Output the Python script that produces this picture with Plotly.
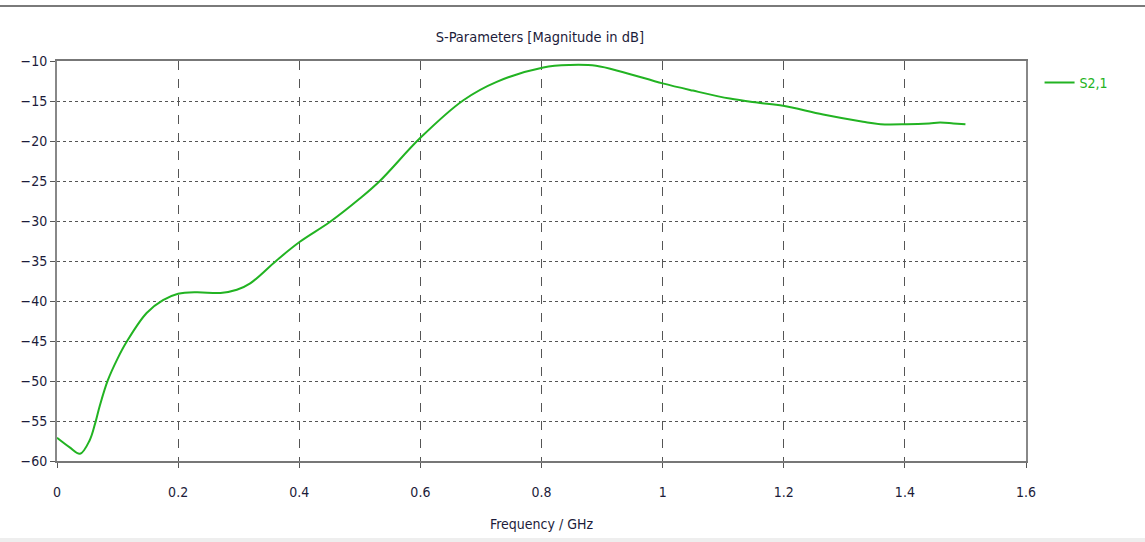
import plotly.graph_objects as go

# S2,1 magnitude versus frequency
freq_ghz = [0.0, 0.021, 0.038, 0.054, 0.063, 0.071, 0.084, 0.1, 0.115, 0.148, 0.175, 0.2, 0.23,
            0.27, 0.297, 0.319, 0.363, 0.401, 0.451, 0.5, 0.533, 0.6, 0.671, 0.726, 0.803,
            0.847, 0.89, 0.935, 1.0, 1.05, 1.111, 1.156, 1.199, 1.265, 1.331, 1.36, 1.403,
            1.44, 1.458, 1.48, 1.5]
s21_db = [-57.1, -58.3, -59.1, -57.4, -55.3, -53.0, -49.9, -47.2, -45.1, -41.5, -39.9, -39.1,
          -38.9, -39.0, -38.6, -37.8, -34.9, -32.6, -30.1, -27.2, -25.0, -19.6, -14.9, -12.6,
          -10.8, -10.5, -10.6, -11.4, -12.8, -13.7, -14.7, -15.2, -15.6, -16.7, -17.6, -17.9,
          -17.9, -17.8, -17.7, -17.8, -17.9]

x_ticks = [0, 0.2, 0.4, 0.6, 0.8, 1, 1.2, 1.4, 1.6]
x_tick_text = ["0", "0.2", "0.4", "0.6", "0.8", "1", "1.2", "1.4", "1.6"]
y_ticks = [-10, -15, -20, -25, -30, -35, -40, -45, -50, -55, -60]

FONT = "DejaVu Sans Condensed"
TEXT = "#1c1c3a"
GRID = "#555555"
GREEN = "#22b322"

fig = go.Figure()
fig.add_trace(go.Scatter(
    x=freq_ghz, y=s21_db, mode="lines", name="S2,1",
    line=dict(color=GREEN, width=2, shape="spline", smoothing=1.0),
))

fig.update_layout(
    width=1145, height=542,
    margin=dict(l=57, r=119, t=61, b=81),
    paper_bgcolor="white", plot_bgcolor="white",
    font=dict(family=FONT, size=14, color=TEXT),
    title=dict(text="S-Parameters [Magnitude in dB]", x=0.4715, xanchor="center",
               y=1 - 37 / 542, yanchor="middle", font=dict(family=FONT, size=14.5, color=TEXT)),
    showlegend=True,
    legend=dict(x=1.014, y=0.985, xanchor="left", yanchor="top", bgcolor="rgba(0,0,0,0)",
                font=dict(family=FONT, size=14, color=GREEN)),
    xaxis=dict(
        range=[0, 1.6], tickvals=x_ticks, ticktext=x_tick_text,
        showgrid=True, gridcolor=GRID, griddash="dash", gridwidth=1,
        showline=True, linecolor="#777777", linewidth=2, mirror=True,
        ticks="outside", ticklen=5, tickcolor="#555555", zeroline=False,
        ticklabelstandoff=12, tickfont=dict(family=FONT, size=14, color=TEXT),
        title=dict(text="Frequency / GHz", standoff=20, font=dict(family=FONT, size=14, color=TEXT)),
    ),
    yaxis=dict(
        range=[-60, -10], tickvals=y_ticks,
        showgrid=True, gridcolor=GRID, griddash="dot", gridwidth=1,
        showline=True, linecolor="#888888", linewidth=2, mirror=True,
        ticks="outside", ticklen=5, tickcolor="#555555", zeroline=False,
        tickfont=dict(family=FONT, size=14, color=TEXT),
    ),
)

# frame lines across the window top and bottom
fig.add_shape(type="line", xref="paper", yref="paper", x0=-0.06, x1=1.13,
              y0=(461 - 6) / 400, y1=(461 - 6) / 400, line=dict(color="#7a7a7a", width=2))
fig.add_shape(type="rect", xref="paper", yref="paper", x0=-0.06, x1=1.13,
              y0=(461 - 538) / 400, y1=(461 - 545) / 400, line=dict(width=0),
              fillcolor="#eeeeee")

fig.write_html("out.html")
